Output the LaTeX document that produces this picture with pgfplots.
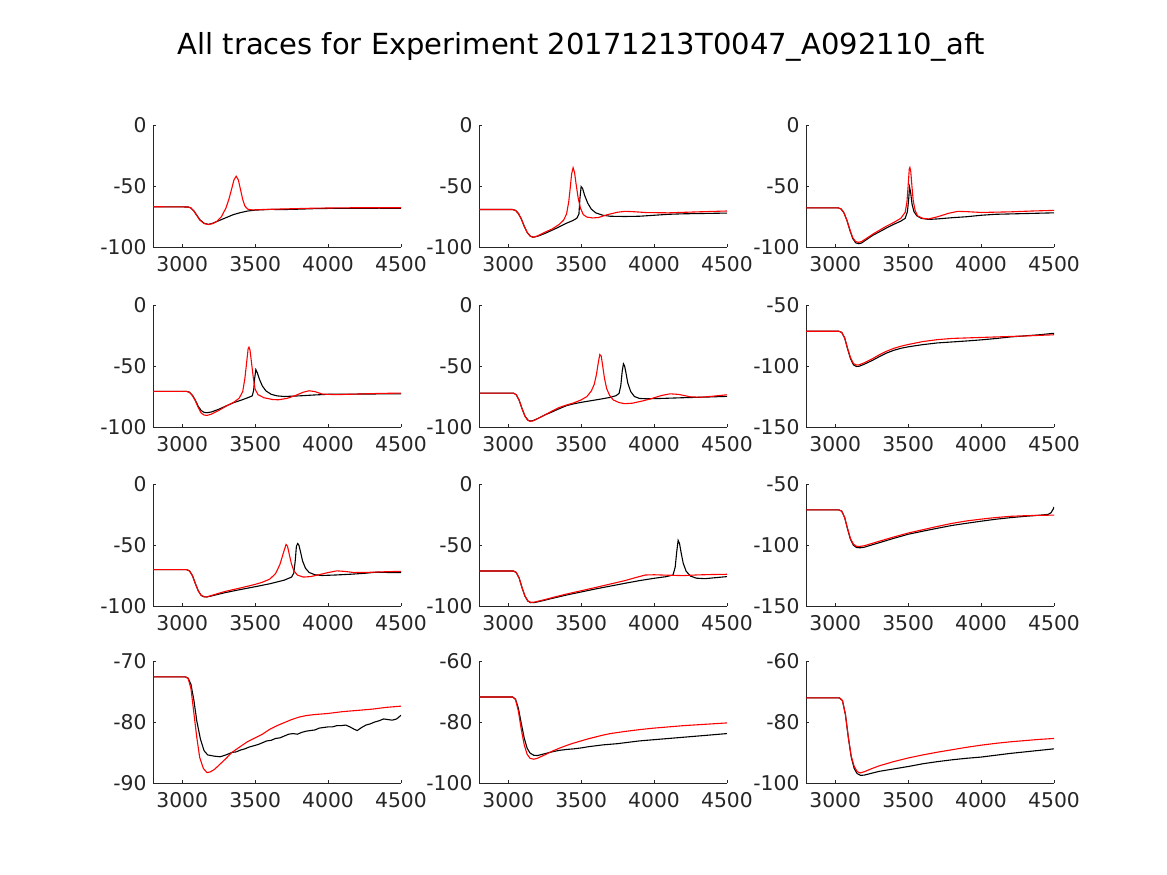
\documentclass[border=0pt]{standalone}
\usepackage{fontspec}
\setmainfont{DejaVu Sans}
\usepackage{pgfplots}
\pgfplotsset{compat=1.18}
\definecolor{mgray}{HTML}{262626}
\pgfplotsset{
  panel/.style={
    scale only axis, width=248pt, height=122pt,
    xmin=2800, xmax=4500,
    axis x line*=bottom, axis y line*=left,
    axis line style={draw=mgray, line width=0.6pt, -},
    tick align=inside, major tick length=3pt,
    tick style={mgray, line width=0.6pt},
    xtick={3000,3500,4000,4500}, xticklabels={3000,3500,4000,4500},
    ticklabel style={font=\fontsize{20.3}{24}\selectfont, text=mgray},
    xticklabel style={yshift=-6pt},
    yticklabel style={xshift=-3pt},
  },
  blk/.style={black, line width=1.1pt},
  rd/.style={red, line width=1.1pt},
  y100/.style={ymin=-100, ymax=0, ytick={-100,-50,0}, yticklabels={-100,-50,0}},
  y150/.style={ymin=-150, ymax=-50, ytick={-150,-100,-50}, yticklabels={-150,-100,-50}},
}
\begin{document}
\begin{tikzpicture}
\path[use as bounding box] (0pt,0pt) rectangle (1167pt,875pt);
\node[font=\fontsize{29}{34}\selectfont, anchor=base] at (581.5pt,820pt) {All traces for Experiment 20171213T0047\_A092110\_aft};

% Row 1, col 1
\begin{axis}[panel, y100, at={(153pt,628pt)}, anchor=south west]
\addplot[blk] coordinates {(2800,-67)(3040,-67.2)(3060,-68)(3080,-70.5)(3100,-74)(3120,-77.5)(3150,-80.5)(3180,-81.5)(3210,-80.5)(3250,-78.5)(3300,-76)(3350,-73.5)(3400,-71.8)(3450,-70.5)(3500,-69.8)(3600,-69.2)(3700,-69.3)(3800,-69)(3900,-68.6)(4000,-68.4)(4200,-68.3)(4350,-68.2)(4500,-68.3)};
\addplot[rd] coordinates {(2800,-67)(3040,-67.2)(3060,-68)(3080,-70.5)(3100,-74)(3120,-77.8)(3150,-80.8)(3180,-81.6)(3210,-80.8)(3240,-78.8)(3270,-75)(3300,-68)(3320,-61)(3340,-52)(3355,-45)(3370,-42)(3385,-45)(3400,-53)(3415,-61)(3430,-66.5)(3450,-69)(3480,-69.6)(3550,-69.3)(3700,-68.8)(3900,-68.2)(4100,-67.9)(4300,-67.8)(4500,-67.8)};
\end{axis}

% Row 1, col 2
\begin{axis}[panel, y100, at={(479pt,628pt)}, anchor=south west]
\addplot[blk] coordinates {(2800,-69.3)(3030,-69.3)(3050,-70)(3070,-72.5)(3090,-77)(3110,-83)(3130,-88)(3150,-91)(3170,-92)(3200,-91.3)(3250,-89)(3300,-86.3)(3350,-83.5)(3400,-80.5)(3440,-78.5)(3470,-76.5)(3485,-73)(3492,-60)(3500,-50.5)(3510,-52)(3525,-58)(3545,-64)(3570,-69)(3600,-72)(3650,-74)(3700,-74.8)(3800,-75)(3900,-74.8)(4000,-74)(4100,-73.2)(4200,-72.8)(4350,-72.5)(4500,-72.2)};
\addplot[rd] coordinates {(2800,-69.3)(3030,-69.3)(3050,-70)(3070,-72.5)(3090,-77)(3110,-83)(3130,-88)(3150,-91)(3170,-92)(3200,-91)(3250,-88)(3300,-85.3)(3350,-81.5)(3380,-78)(3400,-73)(3415,-63)(3425,-52)(3435,-40)(3445,-35)(3455,-39)(3465,-48)(3480,-60)(3495,-68)(3515,-73.5)(3540,-75.5)(3580,-76.2)(3620,-75.8)(3680,-73.5)(3750,-71.5)(3800,-70.8)(3850,-71)(3950,-71.8)(4100,-72)(4300,-71.2)(4500,-70.5)};
\end{axis}

% Row 1, col 3
\begin{axis}[panel, y100, at={(806pt,628pt)}, anchor=south west]
\addplot[blk] coordinates {(2800,-67.9)(3020,-67.9)(3040,-68.8)(3060,-72)(3080,-78)(3100,-86)(3120,-93)(3140,-96.5)(3160,-97.3)(3180,-96.8)(3220,-93.5)(3260,-90.3)(3300,-87.8)(3350,-84.5)(3400,-81.5)(3450,-78.8)(3480,-76.5)(3495,-71)(3503,-62)(3510,-51)(3517,-55)(3527,-65)(3540,-71)(3560,-74.5)(3590,-76.5)(3640,-77.4)(3700,-77)(3800,-76)(3900,-75.2)(4000,-74)(4100,-73.2)(4300,-72.6)(4500,-72)};
\addplot[rd] coordinates {(2800,-67.9)(3020,-67.9)(3040,-68.8)(3060,-72)(3080,-78)(3100,-85.5)(3120,-92.3)(3140,-95.5)(3160,-96.2)(3180,-95.6)(3220,-92.5)(3260,-89.3)(3300,-86.5)(3350,-83)(3400,-80)(3450,-76.5)(3480,-71.5)(3492,-63)(3500,-50)(3508,-36)(3512,-34.8)(3518,-38)(3526,-50)(3535,-62)(3548,-70)(3565,-74.5)(3600,-76.5)(3640,-77)(3700,-75.3)(3780,-72.3)(3840,-70.8)(3900,-71)(4000,-71.7)(4200,-71.2)(4350,-70.5)(4500,-70)};
\end{axis}

% Row 2, col 1
\begin{axis}[panel, y100, at={(153pt,448pt)}, anchor=south west]
\addplot[blk] coordinates {(2800,-70.8)(3030,-70.8)(3050,-71.5)(3070,-74)(3090,-78)(3110,-83)(3130,-86.5)(3150,-88)(3170,-88.3)(3200,-87.7)(3250,-85.5)(3300,-82.8)(3350,-80.2)(3400,-78.2)(3450,-76)(3480,-74.5)(3490,-70)(3497,-60)(3505,-53)(3515,-55.5)(3530,-61)(3550,-66.5)(3575,-70.5)(3610,-73.2)(3650,-74.5)(3700,-75)(3800,-74.5)(3900,-73.8)(4000,-73.2)(4200,-73)(4500,-72.8)};
\addplot[rd] coordinates {(2800,-70.8)(3030,-70.8)(3050,-71.5)(3070,-74.2)(3090,-78.5)(3110,-84)(3130,-88.5)(3150,-90.2)(3170,-90.5)(3200,-89.5)(3250,-86.5)(3300,-83)(3350,-80)(3390,-76.5)(3415,-71)(3430,-60)(3442,-47)(3452,-36)(3458,-34.6)(3465,-37)(3475,-47)(3488,-60)(3500,-69)(3520,-73.5)(3560,-76)(3620,-77.5)(3660,-77.7)(3720,-76.5)(3780,-74)(3830,-71.5)(3870,-70.3)(3910,-71)(3960,-73)(4050,-73.5)(4200,-73)(4350,-72.5)(4500,-72.2)};
\end{axis}

% Row 2, col 2
\begin{axis}[panel, y100, at={(479pt,448pt)}, anchor=south west]
\addplot[blk] coordinates {(2800,-72.2)(3035,-72.2)(3055,-73.5)(3075,-78)(3095,-85)(3115,-91)(3135,-94.3)(3150,-95.1)(3170,-94.8)(3200,-93.2)(3250,-90.2)(3300,-87.7)(3350,-85)(3400,-82.5)(3450,-81)(3500,-79.8)(3550,-78.8)(3600,-77.8)(3650,-76.8)(3700,-75.7)(3740,-74.3)(3760,-72.5)(3772,-66)(3782,-54)(3790,-48.2)(3798,-50)(3808,-56)(3820,-64)(3840,-71)(3865,-75)(3900,-76.6)(3950,-76.9)(4050,-76.6)(4200,-76)(4350,-75.5)(4500,-74.9)};
\addplot[rd] coordinates {(2800,-72.2)(3035,-72.2)(3055,-73.5)(3075,-78)(3095,-85)(3115,-91.2)(3135,-94.6)(3150,-95.3)(3170,-95)(3200,-93.3)(3250,-90.2)(3300,-87)(3350,-84)(3400,-82)(3450,-80.2)(3500,-77.8)(3540,-75)(3570,-70.5)(3590,-65)(3605,-57)(3618,-47)(3628,-40.6)(3638,-42)(3648,-50)(3660,-60)(3675,-68.5)(3695,-74)(3720,-77.8)(3760,-80)(3800,-80.9)(3850,-80.5)(3920,-78.7)(3980,-76.8)(4050,-74.2)(4110,-72.8)(4170,-73.3)(4250,-75.3)(4320,-75.6)(4400,-74.8)(4500,-73.6)};
\end{axis}

% Row 2, col 3
\begin{axis}[panel, y150, at={(806pt,448pt)}, anchor=south west]
\addplot[blk] coordinates {(2800,-71.5)(3025,-71.5)(3045,-72.5)(3065,-77)(3085,-86)(3105,-94)(3125,-99)(3145,-100.4)(3165,-100.2)(3200,-98.5)(3250,-95.7)(3300,-92.5)(3350,-89.5)(3400,-87.2)(3450,-85.5)(3500,-84.3)(3600,-82.5)(3700,-81.1)(3800,-80.3)(3900,-79.5)(4000,-78.6)(4100,-77.5)(4200,-76.2)(4300,-75.3)(4400,-74.4)(4500,-73.2)};
\addplot[rd] coordinates {(2800,-71.5)(3025,-71.5)(3045,-72.5)(3065,-77)(3085,-85.5)(3105,-93.2)(3125,-98)(3145,-99.2)(3165,-99)(3200,-97.3)(3250,-94.4)(3300,-91)(3350,-88)(3400,-85.6)(3450,-83.8)(3500,-82.4)(3600,-80)(3700,-78.4)(3800,-77.4)(3900,-77)(4000,-76.6)(4100,-76.2)(4200,-75.8)(4300,-75.4)(4400,-74.9)(4500,-74.4)};
\end{axis}

% Row 3, col 1
\begin{axis}[panel, y100, at={(153pt,269pt)}, anchor=south west]
\addplot[blk] coordinates {(2800,-70.2)(3030,-70.2)(3050,-71.2)(3070,-75)(3090,-81.5)(3110,-87.5)(3130,-91.3)(3150,-92.5)(3170,-92.6)(3200,-91.8)(3250,-90.3)(3300,-88.9)(3400,-86.5)(3500,-84.2)(3600,-81.8)(3700,-78.8)(3750,-76.3)(3765,-73)(3775,-63)(3783,-51)(3792,-48.8)(3800,-50)(3812,-56)(3825,-63)(3845,-69)(3870,-72.5)(3910,-74.4)(3960,-75)(4050,-74.6)(4150,-74)(4250,-73.2)(4330,-72.3)(4400,-72.5)(4500,-72.7)};
\addplot[rd] coordinates {(2800,-70.2)(3030,-70.2)(3050,-71.2)(3070,-75)(3090,-81.5)(3110,-87.5)(3130,-91.3)(3150,-92.4)(3170,-92.5)(3200,-91.4)(3250,-89.6)(3300,-87.9)(3400,-85.2)(3500,-82.3)(3550,-80.5)(3600,-78)(3640,-73.5)(3670,-66)(3695,-56)(3712,-49.6)(3722,-51)(3733,-57)(3748,-65)(3765,-71)(3790,-74.7)(3830,-76.3)(3880,-75.9)(3940,-74.3)(4000,-72.6)(4060,-71.2)(4110,-71.6)(4180,-72.6)(4280,-72.4)(4400,-71.9)(4500,-71.6)};
\end{axis}

% Row 3, col 2
\begin{axis}[panel, y100, at={(479pt,269pt)}, anchor=south west]
\addplot[blk] coordinates {(2800,-71.3)(3035,-71.3)(3055,-72.5)(3075,-77)(3095,-85)(3115,-92)(3135,-96)(3155,-97.3)(3180,-97.2)(3250,-95.3)(3300,-93.8)(3400,-91)(3500,-88.5)(3600,-86)(3700,-83.7)(3800,-81.4)(3900,-79.2)(4000,-77.3)(4080,-76)(4130,-74.6)(4145,-68)(4155,-56)(4165,-46.2)(4175,-49)(4185,-56)(4200,-65)(4220,-71.5)(4250,-75.5)(4290,-77.2)(4350,-77.6)(4420,-76.8)(4500,-75.9)};
\addplot[rd] coordinates {(2800,-71.3)(3035,-71.3)(3055,-72.5)(3075,-77)(3095,-85)(3115,-91.8)(3135,-95.8)(3155,-97)(3180,-96.8)(3250,-94.8)(3300,-93.2)(3400,-90.2)(3500,-87.5)(3600,-84.8)(3700,-82)(3800,-79.2)(3880,-76.5)(3940,-74.6)(4000,-74.4)(4100,-74.8)(4200,-75.1)(4300,-74.5)(4400,-74.2)(4500,-74)};
\end{axis}

% Row 3, col 3
\begin{axis}[panel, y150, at={(806pt,269pt)}, anchor=south west]
\addplot[blk] coordinates {(2800,-71.2)(3025,-71.2)(3045,-72.3)(3065,-77.5)(3085,-87)(3105,-95.5)(3125,-100.2)(3145,-102)(3170,-102.3)(3200,-101.8)(3300,-98.2)(3400,-94.6)(3500,-91.2)(3600,-88.7)(3700,-86.3)(3800,-84)(3900,-82.2)(4000,-80.5)(4100,-78.9)(4200,-77.6)(4300,-76.5)(4400,-75.6)(4460,-74.9)(4480,-73.5)(4495,-70.5)(4500,-68.8)};
\addplot[rd] coordinates {(2800,-71.2)(3025,-71.2)(3045,-72.3)(3065,-77.5)(3085,-86.5)(3105,-94.8)(3125,-99.3)(3145,-101)(3165,-101.2)(3200,-100.6)(3300,-97)(3400,-93.5)(3500,-90.2)(3600,-87.5)(3700,-84.8)(3800,-82.3)(3900,-80.3)(4000,-78.8)(4100,-77.5)(4200,-76.5)(4300,-76)(4400,-75.7)(4500,-75.5)};
\end{axis}

% Row 4, col 1
\begin{axis}[panel, ymin=-90, ymax=-70, ytick={-90,-80,-70}, yticklabels={-90,-80,-70}, at={(153pt,92pt)}, anchor=south west]
\addplot[blk] coordinates {(2800,-72.6)(3020,-72.6)(3040,-72.8)(3060,-73.8)(3080,-76.4)(3100,-79.8)(3125,-82.8)(3150,-84.7)(3175,-85.4)(3220,-85.6)(3260,-85.7)(3300,-85.4)(3340,-85.0)(3370,-84.9)(3400,-84.6)(3430,-84.4)(3460,-84.1)(3490,-83.9)(3520,-83.7)(3550,-83.4)(3580,-83.1)(3610,-83.0)(3640,-82.7)(3670,-82.6)(3700,-82.3)(3730,-82.0)(3760,-81.9)(3790,-82.0)(3820,-81.7)(3850,-81.5)(3880,-81.4)(3910,-81.3)(3940,-81.0)(3970,-80.9)(4000,-80.8)(4030,-80.8)(4060,-80.6)(4090,-80.6)(4120,-80.5)(4150,-80.8)(4180,-81.2)(4200,-81.4)(4230,-80.9)(4260,-80.5)(4290,-80.3)(4320,-80.0)(4350,-79.8)(4380,-79.5)(4410,-79.6)(4440,-79.7)(4470,-79.5)(4500,-78.9)};
\addplot[rd] coordinates {(2800,-72.6)(3020,-72.6)(3040,-72.8)(3060,-74.5)(3080,-78.5)(3100,-82.5)(3120,-85.8)(3145,-87.6)(3170,-88.3)(3190,-88.2)(3220,-87.8)(3260,-86.9)(3300,-86.0)(3340,-85.0)(3400,-84.0)(3450,-83.2)(3500,-82.6)(3550,-82.0)(3600,-81.2)(3650,-80.6)(3700,-80.1)(3750,-79.6)(3800,-79.2)(3850,-78.95)(3900,-78.8)(4000,-78.6)(4100,-78.3)(4200,-78.1)(4300,-77.9)(4400,-77.6)(4500,-77.4)};
\end{axis}

% Row 4, col 2
\begin{axis}[panel, ymin=-100, ymax=-60, ytick={-100,-80,-60}, yticklabels={-100,-80,-60}, at={(479pt,92pt)}, anchor=south west]
\addplot[blk] coordinates {(2800,-71.8)(3030,-71.8)(3050,-72.5)(3070,-75.5)(3090,-80.5)(3110,-85.3)(3130,-88.6)(3150,-90.2)(3175,-90.9)(3200,-91.0)(3250,-90.4)(3300,-89.8)(3350,-89.3)(3400,-89.0)(3450,-88.8)(3500,-88.5)(3550,-88.1)(3600,-87.8)(3650,-87.5)(3700,-87.3)(3750,-87.1)(3800,-86.8)(3850,-86.5)(3900,-86.2)(3950,-86.0)(4000,-85.8)(4100,-85.4)(4200,-85.0)(4300,-84.6)(4400,-84.2)(4500,-83.8)};
\addplot[rd] coordinates {(2800,-71.8)(3030,-71.8)(3050,-72.6)(3070,-76.5)(3090,-82.5)(3110,-87.5)(3130,-90.6)(3150,-91.9)(3175,-92.2)(3200,-91.9)(3250,-90.8)(3300,-89.6)(3350,-88.6)(3400,-87.7)(3450,-86.9)(3500,-86.2)(3550,-85.5)(3600,-84.9)(3650,-84.3)(3700,-83.8)(3800,-83.1)(3900,-82.5)(4000,-82.0)(4100,-81.6)(4200,-81.2)(4300,-80.9)(4400,-80.6)(4500,-80.3)};
\end{axis}

% Row 4, col 3
\begin{axis}[panel, ymin=-100, ymax=-60, ytick={-100,-80,-60}, yticklabels={-100,-80,-60}, at={(806pt,92pt)}, anchor=south west]
\addplot[blk] coordinates {(2800,-72.1)(3030,-72.1)(3050,-73)(3070,-77.5)(3090,-85)(3110,-91.5)(3130,-95.2)(3150,-96.9)(3175,-97.5)(3200,-97.4)(3250,-96.8)(3300,-96.2)(3400,-95.4)(3500,-94.6)(3600,-93.7)(3700,-93.0)(3800,-92.4)(3900,-91.9)(4000,-91.5)(4100,-90.9)(4200,-90.3)(4300,-89.8)(4400,-89.3)(4500,-88.8)};
\addplot[rd] coordinates {(2800,-72.1)(3030,-72.1)(3050,-73)(3070,-77.5)(3090,-85)(3110,-91.2)(3130,-94.5)(3150,-96.2)(3170,-96.7)(3200,-96.3)(3250,-95.3)(3300,-94.4)(3400,-93.0)(3500,-91.8)(3600,-90.8)(3700,-89.9)(3800,-89.1)(3900,-88.3)(4000,-87.6)(4100,-87.0)(4200,-86.5)(4300,-86.1)(4400,-85.7)(4500,-85.4)};
\end{axis}
\end{tikzpicture}
\end{document}
